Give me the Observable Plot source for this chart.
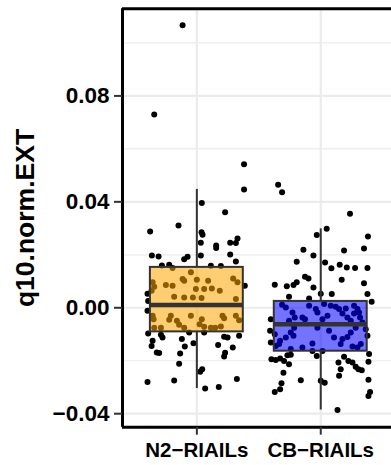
<!DOCTYPE html>
<html>
<head>
<meta charset="utf-8">
<script src="https://cdn.jsdelivr.net/npm/d3@7"></script>
<script src="https://cdn.jsdelivr.net/npm/@observablehq/plot@0.6"></script>
<style>
  html, body { margin: 0; padding: 0; background: white; overflow: hidden; }
  #chart svg { display: block; }
</style>
</head>
<body>
<div id="chart"></div>
<script>
const categories = ["N2\u2212RIAILs", "CB\u2212RIAILs"];
const boxColors = ["#FFA500", "#0000FF"];
const majorTicks = [-0.04, 0, 0.04, 0.08];
const minorTicks = [-0.02, 0.02, 0.06, 0.10];
const yLabel = "q10.norm.EXT";
const xDomain = [0.4, 2.571];   // the panel continues past the right edge of the image
const yDomain = [-0.0451, 0.1129];

// box summaries per category
const q1 = [-0.0091, -0.0164];
const median = [0.0010, -0.0062];
const q3 = [0.01525, 0.0024];
const whiskerLow = [-0.0305, -0.0386];
const whiskerHigh = [0.0447, 0.0298];

// jittered points: horizontal jitter (category units) and value
const n2Jitter = [-0.115,-0.344,0.381,0.381,0.040,0.228,-0.377,-0.148,0.038,0.046,0.328,0.315,0.269,0.032,0.156,0.156,-0.363,-0.309,-0.102,-0.075,0.032,0.269,0.315,-0.282,-0.223,-0.196,0.113,0.194,0.387,-0.048,-0.115,-0.102,0,0.091,0.293,0.328,0.185,0.121,0.059,-0.008,-0.196,-0.250,-0.344,-0.357,-0.365,-0.183,-0.102,-0.032,0.038,0.315,-0.393,-0.357,-0.349,-0.210,-0.223,-0.161,-0.143,-0.048,0.040,0.022,0.059,0.113,0.207,0.220,0.315,0.341,-0.344,-0.290,0.148,0.194,-0.102,-0.398,-0.398,-0.393,-0.357,-0.365,-0.323,-0.304,-0.277,-0.121,-0.097,-0.135,-0.143,-0.027,0.172,0.220,0.248,0.290,0.228,0.220,0.043,0.027,-0.398,-0.183,0.067,0.177,0.323,-0.062,-0.290,0.341,0.059];
const n2Values = [0.1067,0.0730,0.0542,0.0447,0.0396,0.0361,0.0288,0.0311,0.0285,0.0276,0.0262,0.0245,0.0246,0.0246,0.0235,0.0226,0.0197,0.0194,0.0183,0.0193,0.0197,0.0201,0.0175,0.0160,0.0162,0.0150,0.0159,0.0158,0.0083,0.0134,0.0109,0.0102,0.0106,0.0102,0.0111,0.0096,0.0064,0.0073,0.0071,0.0071,0.0083,0.0086,0.0079,0.0096,0.0064,0.0042,0.0039,0.0039,0.0037,0.0033,0.0026,-0.0030,-0.0043,-0.0030,-0.0045,-0.0049,-0.0064,-0.0030,-0.0043,-0.0062,-0.0072,-0.0075,-0.0030,-0.0040,-0.0030,-0.0047,-0.0075,-0.0075,-0.0075,-0.0071,-0.0075,-0.0011,0.0053,-0.0097,-0.0125,-0.0144,-0.0169,-0.0171,-0.0112,-0.0118,-0.0146,-0.0173,-0.0211,-0.0134,-0.0141,-0.0109,-0.0112,-0.0150,-0.0170,-0.0184,-0.0232,-0.0242,-0.0280,-0.0275,-0.0305,-0.0299,-0.0269,-0.0093,-0.0102,-0.0106,-0.0093];

const cbJitter = [-0.344,-0.312,0.236,0.048,-0.032,0.381,-0.140,0.188,0.349,-0.059,-0.194,0.035,0.086,0.153,0.210,0.277,0.377,-0.127,-0.099,-0.371,-0.274,-0.220,-0.194,-0.059,0.169,0.349,0.377,0.089,-0.256,-0.094,0,0.411,-0.312,-0.282,-0.228,-0.210,-0.256,-0.148,-0.127,-0.215,-0.242,-0.220,-0.282,-0.328,-0.336,-0.363,-0.371,-0.403,-0.409,-0.094,-0.040,-0.027,0.014,-0.027,-0.067,0.067,0.107,0.161,0.175,0.215,0.242,0.256,0.296,0.323,0.377,0.081,0.121,0.148,0.175,0.202,0.215,0.269,0.296,0.309,0.317,0.336,0.363,0.282,0.242,0.054,0.027,0.269,-0.067,0.014,-0.148,-0.242,-0.398,-0.363,-0.328,-0.296,-0.269,-0.242,-0.256,-0.301,-0.317,-0.328,-0.371,-0.161,-0.032,0,0.032,0.148,0.161,0.143,0.188,0.223,0.256,0.282,0.304,0.331,0.385,0.385,0.398,0.385,0.135,-0.403,0.390];
const cbValues = [0.0465,0.0436,0.0355,0.0298,0.0275,0.0269,0.0219,0.0216,0.0224,0.0197,0.0174,0.0171,0.0149,0.0162,0.0152,0.0150,0.0150,0.0117,0.0111,0.0087,0.0081,0.0086,0.0096,0.0077,0.0106,0.0093,0.0052,0.0052,0.0042,0.0035,0.0053,0.0023,0.0011,0.0001,-0.0018,-0.0037,-0.0049,-0.0037,-0.0043,-0.0075,-0.0093,-0.0106,-0.0112,-0.0125,-0.0137,-0.0144,-0.0100,-0.0043,-0.0087,0.0008,-0.0005,-0.0018,-0.0043,-0.0075,-0.0135,-0.0087,-0.0112,-0.0137,-0.0118,-0.0110,-0.0093,-0.0146,-0.0150,-0.0137,-0.0106,0.0008,0.0004,-0.0005,-0.0022,-0.0003,-0.0037,-0.0022,-0.0005,-0.0018,-0.0037,-0.0056,-0.0081,-0.0075,-0.0049,-0.0030,0.0014,0.0008,-0.0163,-0.0163,-0.0150,-0.0156,-0.0194,-0.0197,-0.0192,-0.0201,-0.0179,-0.0177,-0.0213,-0.0245,-0.0285,-0.0308,-0.0318,-0.0274,-0.0182,-0.0276,-0.0283,-0.0257,-0.0232,-0.0207,-0.0185,-0.0201,-0.0207,-0.0223,-0.0232,-0.0236,-0.0204,-0.0272,-0.0318,-0.0333,-0.0386,-0.0131,-0.0175];

// build tables
const boxes = categories.map((c, i) => ({
  cat: c, pos: i + 1, q1: q1[i], median: median[i], q3: q3[i], lo: whiskerLow[i], hi: whiskerHigh[i]
}));
const points = [
  ...n2Jitter.map((j, i) => ({pos: 1, jitter: j, value: n2Values[i]})),
  ...cbJitter.map((j, i) => ({pos: 2, jitter: j, value: cbValues[i]}))
];
const halfBox = 0.375;
const boxStroke = "#333333";

const chart = Plot.plot({
  width: 391,
  height: 465,
  marginLeft: 122,
  marginRight: 0,
  marginTop: 8.3,
  marginBottom: 38.3,
  style: {fontFamily: "'Liberation Sans', Arial, sans-serif", background: "white", maxWidth: "none"},
  x: {domain: xDomain, axis: null},
  y: {domain: yDomain, axis: null},
  color: {domain: categories, range: boxColors},
  marks: [
    Plot.gridY(minorTicks, {stroke: "#EBEBEB", strokeOpacity: 1, strokeWidth: 1.2}),
    Plot.gridY(majorTicks, {stroke: "#EBEBEB", strokeOpacity: 1, strokeWidth: 2.2}),
    Plot.gridX([1, 2], {stroke: "#EBEBEB", strokeOpacity: 1, strokeWidth: 2.2}),
    Plot.dot(points, {x: d => d.pos + d.jitter, y: "value", r: 3, fill: "black", stroke: null}),
    Plot.rect(boxes, {x1: d => d.pos - halfBox, x2: d => d.pos + halfBox, y1: "q1", y2: "q3", fill: "cat", fillOpacity: 0.55, stroke: boxStroke, strokeWidth: 2}),
    Plot.ruleX(boxes, {x: "pos", y1: "q3", y2: "hi", stroke: boxStroke, strokeWidth: 2}),
    Plot.ruleX(boxes, {x: "pos", y1: "lo", y2: "q1", stroke: boxStroke, strokeWidth: 2}),
    Plot.ruleY(boxes, {y: "median", x1: d => d.pos - halfBox, x2: d => d.pos + halfBox, stroke: boxStroke, strokeWidth: 4.5}),
    // panel border: left, top and bottom (right side lies outside the image)
    Plot.ruleX([xDomain[0]], {stroke: "black", strokeWidth: 3}),
    Plot.ruleY(yDomain, {stroke: "black", strokeWidth: 3}),
    Plot.axisY(majorTicks, {tickSize: 8, tickPadding: 5, fontSize: 22.5, fontWeight: "bold", tickFormat: d3.format(".2f"), stroke: boxStroke, strokeWidth: 2, fill: "black", label: null}),
    Plot.axisX([1, 2], {tickSize: 8, tickPadding: 7, fontSize: 20.5, fontWeight: "bold", tickFormat: d => categories[d - 1], stroke: boxStroke, strokeWidth: 2, fill: "black", label: null}),
    Plot.text([yLabel], {frameAnchor: "left", textAnchor: "middle", lineAnchor: "middle", rotate: -90, dx: -97, fontSize: 26.5, fontWeight: "bold", fill: "black"})
  ]
});
document.getElementById("chart").appendChild(chart);
</script>
</body>
</html>
